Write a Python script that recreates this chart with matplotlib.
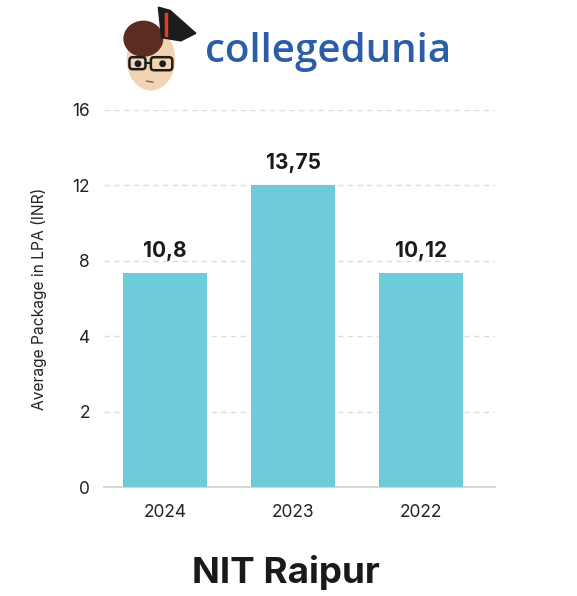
import matplotlib.pyplot as plt
import numpy as np
from matplotlib.patches import Ellipse, Polygon, FancyBboxPatch, Circle

# data
years = ["2024", "2023", "2022"]
bar_heights = [7.36, 12.0, 7.36]          # bar height as drawn on the (odd) axis
bar_labels = ["10,8", "13,75", "10,12"]   # labels printed on top
ytick_values = [0, 2, 4, 8, 12, 16]
bar_pos = [0, 1, 2]

plt.rcParams['font.family'] = ['Inter', 'DejaVu Sans']

# the y axis is evenly spaced per tick, not linear
tick_steps = np.arange(len(ytick_values))


def forward(v):
    return np.interp(v, ytick_values, tick_steps)


def inverse(p):
    return np.interp(p, tick_steps, ytick_values)


fig = plt.figure(figsize=(5.77, 5.96), dpi=100)
ax = fig.add_axes([104 / 577, 1 - 487 / 596, 391 / 577, 377 / 596])
ax.set_yscale('function', functions=(forward, inverse))

bar_color = "#6ECBD9"
bars = ax.bar(bar_pos, bar_heights, width=0.656, color=bar_color, zorder=3)

for x, h, lab in zip(bar_pos, bar_heights, bar_labels):
    ax.annotate(lab, (x, h), xytext=(0, 16), textcoords='offset points',
                ha='center', va='center', fontsize=15, fontweight='bold',
                color="#1a1a1a")

ax.set_ylim(0, 16)
ax.set_xlim(-0.477, 2.578)
ax.set_yticks(ytick_values)
ax.set_yticklabels([str(v) for v in ytick_values])
ax.set_xticks(bar_pos)
ax.set_xticklabels(years)
ax.tick_params(axis='both', length=0, labelsize=12.5, colors="#222222")
ax.tick_params(axis='y', pad=10)
ax.tick_params(axis='x', pad=12)

for v in ytick_values[1:]:
    ax.axhline(v, color="#dddddd", linestyle=(0, (4, 3)), linewidth=1, zorder=1)

for s in ['top', 'right', 'left']:
    ax.spines[s].set_visible(False)
ax.spines['bottom'].set_color("#d0d0d0")
ax.spines['bottom'].set_linewidth(1.2)

ax.set_ylabel("Average Package in LPA (INR)", fontsize=11.2, color="#222222")
ax.yaxis.set_label_coords(-0.145, 0.5)

fig.text(286 / 577, 1 - 572 / 596, "NIT Raipur", ha='center', va='center',
         fontsize=26.5, fontweight='bold', color="#1a1a1a")

# logo
fig.text(205 / 577, 1 - 52 / 596, "collegedunia", ha='left', va='center',
         fontsize=29, fontweight='semibold', color="#2C5DA8",
         family=['Open Sans', 'DejaVu Sans'])

lg = fig.add_axes([123 / 577, 1 - 92 / 596, 75 / 577, 87 / 596])
lg.set_xlim(0, 70)
lg.set_ylim(80, 0)
lg.axis('off')
lg.add_patch(Ellipse((26, 50), 44, 56, color="#F2D3B4"))
lg.add_patch(Ellipse((19, 31), 36, 32, color="#5A2C22"))
lg.add_patch(Polygon([(33, 2), (44, 5), (68, 26), (54, 33), (36, 30)],
                     color="#1c1c1c"))
lg.plot([40, 40], [8, 28], color="#E0402A", lw=2.5)
lg.add_patch(FancyBboxPatch((6, 48), 15, 11, boxstyle="round,pad=0,rounding_size=3",
                            fill=False, ec="#1c1c1c", lw=1.8))
lg.add_patch(FancyBboxPatch((26, 48), 20, 12, boxstyle="round,pad=0,rounding_size=3",
                            fill=False, ec="#1c1c1c", lw=1.8))
lg.plot([21, 26], [53, 53], color="#1c1c1c", lw=1.5)
lg.add_patch(Circle((14, 54), 2.5, color="#1c1c1c"))
lg.add_patch(Circle((37, 54), 2.5, color="#1c1c1c"))
lg.plot([22, 28], [70, 71], color="#8a5a4a", lw=1)

fig.savefig("out.png", dpi=100)
